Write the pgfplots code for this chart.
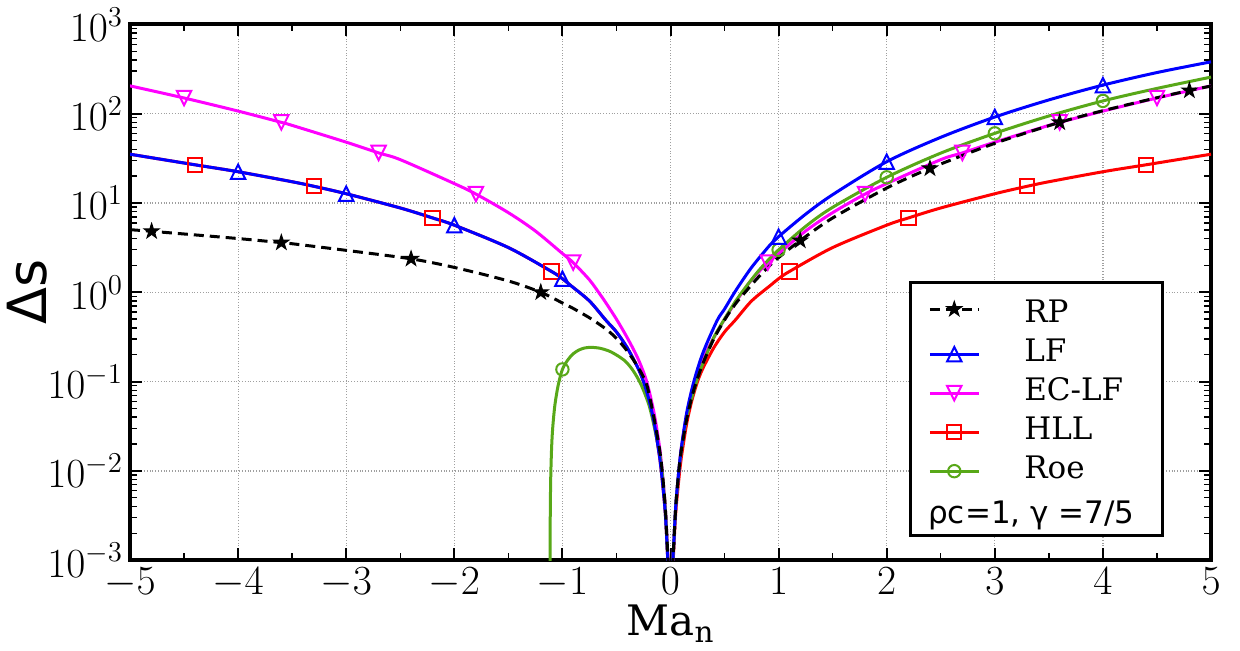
\documentclass[border=0pt]{standalone}
\usepackage{fontspec}
\setmainfont{DejaVu Serif}
\setsansfont{DejaVu Sans}
\usepackage{pgfplots}
\pgfplotsset{compat=1.18}

\definecolor{roegreen}{RGB}{88,168,24}
\definecolor{pmag}{RGB}{255,0,255}
\definecolor{pblue}{RGB}{0,0,255}
\definecolor{pred}{RGB}{255,0,0}

% filled five-pointed star
\pgfdeclareplotmark{fstar}{%
  \pgfpathmoveto{\pgfqpointpolar{90}{\pgfplotmarksize}}%
  \pgfpathlineto{\pgfqpointpolar{126}{0.382\pgfplotmarksize}}%
  \pgfpathlineto{\pgfqpointpolar{162}{\pgfplotmarksize}}%
  \pgfpathlineto{\pgfqpointpolar{198}{0.382\pgfplotmarksize}}%
  \pgfpathlineto{\pgfqpointpolar{234}{\pgfplotmarksize}}%
  \pgfpathlineto{\pgfqpointpolar{270}{0.382\pgfplotmarksize}}%
  \pgfpathlineto{\pgfqpointpolar{306}{\pgfplotmarksize}}%
  \pgfpathlineto{\pgfqpointpolar{342}{0.382\pgfplotmarksize}}%
  \pgfpathlineto{\pgfqpointpolar{18}{\pgfplotmarksize}}%
  \pgfpathlineto{\pgfqpointpolar{54}{0.382\pgfplotmarksize}}%
  \pgfpathclose\pgfusepathqfillstroke}
% open triangles as wide as they are tall
\pgfdeclareplotmark{tup}{%
  \pgfpathmoveto{\pgfqpoint{0pt}{\pgfplotmarksize}}%
  \pgfpathlineto{\pgfqpoint{-\pgfplotmarksize}{-\pgfplotmarksize}}%
  \pgfpathlineto{\pgfqpoint{\pgfplotmarksize}{-\pgfplotmarksize}}%
  \pgfpathclose\pgfusepathqstroke}
\pgfdeclareplotmark{tdown}{%
  \pgfpathmoveto{\pgfqpoint{0pt}{-\pgfplotmarksize}}%
  \pgfpathlineto{\pgfqpoint{-\pgfplotmarksize}{\pgfplotmarksize}}%
  \pgfpathlineto{\pgfqpoint{\pgfplotmarksize}{\pgfplotmarksize}}%
  \pgfpathclose\pgfusepathqstroke}

\pgfplotsset{
  curve/.style={smooth, tension=0.5, line width=1.5pt},
  rpline/.style={curve, black, dash pattern=on 5pt off 3pt},
  rpmark/.style={black, mark=fstar, mark size=3.8pt, mark options={solid, fill=black, line width=0.6pt}},
  lfline/.style={curve, pblue},
  lfmark/.style={pblue, mark=tup, mark size=3.6pt, mark options={line width=1pt}},
  ecline/.style={curve, pmag},
  ecmark/.style={pmag, mark=tdown, mark size=3.6pt, mark options={line width=1pt}},
  hllline/.style={curve, pred},
  hllmark/.style={pred, mark=square, mark size=3.6pt, mark options={line width=1pt}},
  roeline/.style={curve, roegreen},
  roemark/.style={roegreen, mark=o, mark size=3.1pt, mark options={line width=1pt}},
}

\begin{document}
\begin{tikzpicture}
\begin{axis}[
  scale only axis,
  width=540.5pt, height=267.9pt,
  xmin=-5, xmax=5,
  ymode=log, ymin=1e-3, ymax=1e3,
  xtick={-5,-4,...,5},
  minor xtick={-4.5,-3.5,...,4.5},
  ytick={1e-3,1e-2,1e-1,1,1e1,1e2,1e3},
  minor ytick={2e-3,3e-3,4e-3,5e-3,6e-3,7e-3,8e-3,9e-3,
               2e-2,3e-2,4e-2,5e-2,6e-2,7e-2,8e-2,9e-2,
               2e-1,3e-1,4e-1,5e-1,6e-1,7e-1,8e-1,9e-1,
               2,3,4,5,6,7,8,9,
               20,30,40,50,60,70,80,90,
               200,300,400,500,600,700,800,900},
  tick align=inside, tick pos=both,
  major tick length=6pt, minor tick length=3.5pt,
  every major tick/.style={black, line width=1pt},
  every minor tick/.style={black, line width=0.7pt},
  axis line style={line width=2pt},
  grid=major,
  major grid style={gray!75, densely dotted, line width=0.6pt},
  ticklabel style={font=\fontsize{20}{24}\selectfont},
  xlabel={Ma\textsubscript{n}},
  xlabel style={font=\fontsize{21}{25}\selectfont, yshift=3pt},
  ylabel={Δs},
  ylabel style={font=\sffamily\fontsize{27}{32}\selectfont, yshift=-7pt},
  legend cell align=left,
  legend image code/.code={%
    \draw[mark repeat=2,mark phase=2] plot coordinates {(0pt,0pt)(12.25pt,0pt)(24.5pt,0pt)};},
  legend style={
    at={(rel axis cs:0.9565,0.043)}, anchor=south east,
    draw=black, line width=1.5pt,
    font=\fontsize{15.5}{18}\selectfont,
    inner xsep=9pt, inner ysep=3pt,
    row sep=5pt, column sep=22pt,
    nodes={inner sep=0pt, text height=11pt, text depth=3.5pt},
  },
]
\coordinate (bl) at (rel axis cs:0,0);
\coordinate (tr) at (rel axis cs:1,1);

% HLL
\addplot[hllline, forget plot] coordinates {
(-5,35.2)(-4.4,26.8)(-4,22.4)(-3.5,17.3)(-3.3,15.4)(-3,12.7)(-2.5,8.8)(-2.2,6.8)
(-2,5.65)(-1.5,3.17)(-1.1,1.71)(-1,1.42)(-0.926,1.2)(-0.75,0.8)(-0.6,0.49)(-0.5,0.36)
(-0.4,0.239)(-0.3,0.141)(-0.25,0.1)(-0.2,0.063)(-0.15,0.034)(-0.1,0.0141)(-0.085,0.01)
(-0.05,0.0036)(-0.03,0.0013)(-0.02,0.00058)(0,1e-5)
(0.02,0.00058)(0.03,0.0013)(0.05,0.0036)(0.085,0.01)(0.1,0.0141)(0.15,0.034)(0.2,0.063)
(0.25,0.1)(0.3,0.141)(0.4,0.239)(0.5,0.36)(0.6,0.49)(0.75,0.8)(0.926,1.2)(1,1.42)
(1.1,1.71)(1.5,3.17)(2,5.65)(2.2,6.8)(2.5,8.8)(3,12.7)(3.3,15.4)(3.5,17.3)(4,22.4)
(4.4,26.8)(5,35.2)};
\addplot[hllmark, only marks, forget plot] coordinates {
(-4.4,26.8)(-3.3,15.4)(-2.2,6.8)(-1.1,1.71)(1.1,1.71)(2.2,6.8)(3.3,15.4)(4.4,26.8)};

% EC-LF
\addplot[ecline, forget plot] coordinates {
(-5,205)(-4.5,150)(-4,107)(-3.6,80)(-3.5,74)(-3,48)(-2.7,36.4)(-2.5,30.6)(-2,16.5)
(-1.8,12.6)(-1.5,7.8)(-1.25,4.86)(-1,2.72)(-0.9,2.15)(-0.75,1.38)(-0.66,0.98)(-0.6,0.77)
(-0.5,0.5)(-0.4,0.31)(-0.3,0.18)(-0.22,0.1)(-0.15,0.043)(-0.1,0.018)(-0.077,0.01)
(-0.05,0.0042)(-0.03,0.0015)(-0.02,0.00068)(0,1e-5)
(0.02,0.00068)(0.03,0.0015)(0.05,0.0042)(0.077,0.01)(0.1,0.018)(0.15,0.043)(0.22,0.1)
(0.3,0.18)(0.4,0.31)(0.5,0.5)(0.6,0.77)(0.66,0.98)(0.75,1.38)(0.9,2.15)(1,2.72)
(1.25,4.86)(1.5,7.8)(1.8,12.6)(2,16.5)(2.5,30.6)(2.7,36.4)(3,48)(3.5,74)(3.6,80)
(4,107)(4.5,150)(5,205)};
\addplot[ecmark, only marks, forget plot] coordinates {
(-4.5,150)(-3.6,80)(-2.7,36.4)(-1.8,12.6)(-0.9,2.15)(0.9,2.15)(1.8,12.6)(2.7,36.4)(3.6,80)(4.5,150)};

% Roe
\addplot[roeline, forget plot] coordinates {
(-1.1149,0.00012)(-1.114,0.0012)(-1.112,0.0036)(-1.108,0.0084)(-1.1,0.018)(-1.09,0.03)
(-1.07,0.054)(-1.04,0.09)(-1,0.137)(-0.95,0.175)(-0.9,0.205)(-0.85,0.225)(-0.8,0.237)
(-0.74,0.242)(-0.65,0.236)(-0.55,0.215)(-0.43,0.174)(-0.35,0.135)(-0.275,0.094)
(-0.2,0.055)(-0.15,0.031)(-0.1,0.0155)(-0.077,0.0095)(-0.05,0.004)(-0.03,0.0014)
(-0.02,0.00062)(0,1e-5)
(0.02,0.0007)(0.03,0.0015)(0.05,0.0042)(0.077,0.01)(0.1,0.017)(0.15,0.04)(0.24,0.1)
(0.3,0.16)(0.4,0.31)(0.49,0.48)(0.6,0.79)(0.66,1.0)(0.8,1.66)(0.926,2.45)(1,2.99)
(1.25,5.47)(1.5,8.95)(2,19.4)(2.5,36.2)(3,60.3)(3.5,94.3)(4,139)(4.5,192)(5,257)};
\addplot[roemark, only marks, forget plot] coordinates {
(-1,0.137)(1,2.99)(2,19.4)(3,60.3)(4,139)};

% LF
\addplot[lfline, forget plot] coordinates {
(-5,35.2)(-4.4,26.8)(-4,22.4)(-3.5,17.3)(-3.3,15.4)(-3,12.7)(-2.5,8.8)(-2.2,6.8)
(-2,5.65)(-1.5,3.17)(-1.1,1.71)(-1,1.42)(-0.926,1.2)(-0.75,0.8)(-0.6,0.49)(-0.5,0.36)
(-0.4,0.239)(-0.3,0.141)(-0.25,0.1)(-0.2,0.063)(-0.15,0.034)(-0.1,0.0141)(-0.085,0.01)
(-0.05,0.0036)(-0.03,0.0013)(-0.02,0.00058)(0,1e-5)
(0.02,0.0007)(0.03,0.0015)(0.05,0.0043)(0.077,0.01)(0.1,0.018)(0.15,0.045)(0.216,0.1)
(0.3,0.21)(0.43,0.48)(0.5,0.65)(0.6,1.03)(0.75,1.9)(0.926,3.45)(1,4.2)(1.25,7.5)
(1.5,12.4)(2,29)(2.5,54.4)(3,91.8)(3.5,142.7)(4,209)(4.5,289)(5,381)};
\addplot[lfmark, only marks, forget plot] coordinates {
(-4,22.4)(-3,12.7)(-2,5.65)(-1,1.42)(1,4.2)(2,29)(3,91.8)(4,209)};

% RP
\addplot[rpline, forget plot] coordinates {
(-5,5.03)(-4.8,4.82)(-4.5,4.5)(-4,4.0)(-3.6,3.6)(-3.5,3.5)(-3,2.95)(-2.4,2.37)(-2,1.9)
(-1.5,1.34)(-1.2,1.0)(-1,0.76)(-0.9,0.66)(-0.74,0.51)(-0.6,0.39)(-0.5,0.305)(-0.4,0.22)
(-0.3,0.145)(-0.23,0.1)(-0.2,0.074)(-0.15,0.038)(-0.1,0.017)(-0.077,0.01)(-0.05,0.0042)
(-0.03,0.0015)(-0.02,0.00068)(0,1e-5)
(0.02,0.00068)(0.03,0.0015)(0.05,0.0042)(0.077,0.01)(0.1,0.017)(0.15,0.038)(0.2,0.069)
(0.24,0.1)(0.3,0.16)(0.4,0.30)(0.5,0.49)(0.6,0.74)(0.69,1.0)(0.8,1.42)(0.926,2.04)
(1,2.45)(1.2,3.8)(1.5,6.8)(2,14.7)(2.4,24.4)(3,46.6)(3.6,80)(4,108)(4.5,151)(4.8,182)(5,204)};
\addplot[rpmark, only marks, forget plot] coordinates {
(-4.8,4.82)(-3.6,3.6)(-2.4,2.37)(-1.2,1.0)(1.2,3.8)(2.4,24.4)(3.6,80)(4.8,182)};

% legend
\addlegendimage{rpline, rpmark}
\addlegendentry[text height=17pt]{RP}
\addlegendimage{lfline, lfmark}
\addlegendentry{LF}
\addlegendimage{ecline, ecmark}
\addlegendentry{EC-LF}
\addlegendimage{hllline, hllmark}
\addlegendentry{HLL}
\addlegendimage{roeline, roemark}
\addlegendentry{Roe}
\addlegendimage{empty legend}
\addlegendentry[text height=14pt, text depth=3pt]{\hspace*{-48pt}\sffamily ρc=1, γ =7/5\hspace*{5pt}}
\end{axis}
\pgfresetboundingbox
\path[use as bounding box] ([shift={(-65pt,-45pt)}]bl) rectangle ([shift={(14.5pt,12.2pt)}]tr);
\end{tikzpicture}
\end{document}
